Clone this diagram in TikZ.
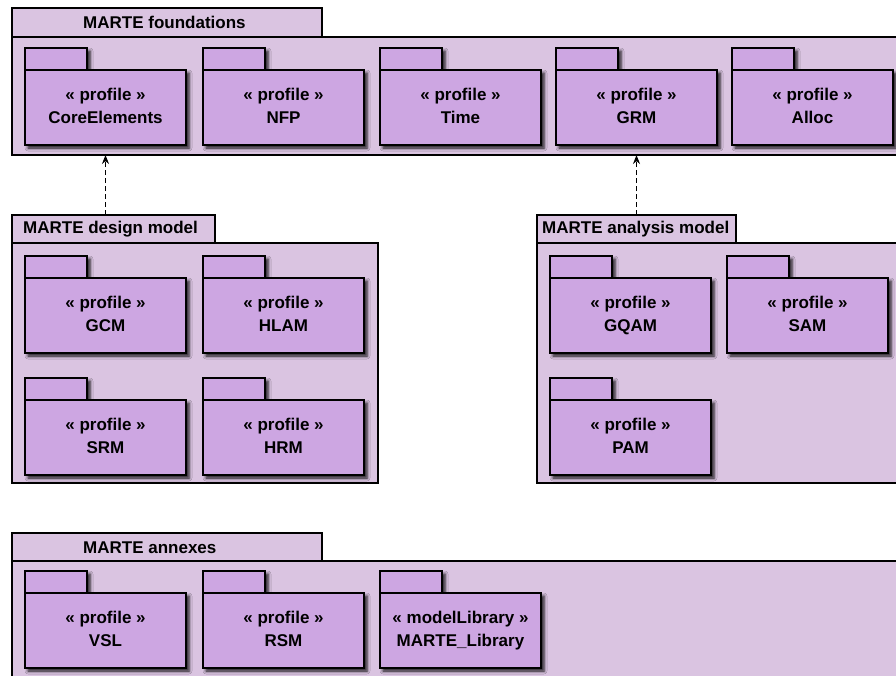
\documentclass[tikz,border=0pt]{standalone}
\usepackage{fontspec}
\setmainfont{Liberation Sans}
\usetikzlibrary{shadows.blur,arrows.meta}
\definecolor{martebg}{RGB}{218,196,225}
\definecolor{martepkg}{RGB}{205,166,226}
\begin{document}
\begin{tikzpicture}[x=1pt,y=-1pt,
  font=\fontsize{17}{22.6}\selectfont\bfseries,
  group/.style={draw,fill=martebg,line width=1.1pt,inner sep=0pt,
    outer sep=0pt,anchor=north west},
  grouptab/.style={group,minimum height=29pt},
  title/.style={anchor=west,inner sep=0pt},
  pkg/.style={draw,fill=martepkg,line width=1.4pt,inner sep=0pt,outer sep=0pt,
    minimum width=161pt,minimum height=75pt,align=center,anchor=north west,
    blur shadow={shadow xshift=3pt,shadow yshift=-3pt,
      shadow blur radius=3pt,shadow opacity=90}},
  pkgtab/.style={pkg,minimum width=62pt,minimum height=22pt,anchor=south west},
  dep/.style={draw,dash pattern=on 5pt off 3pt,line width=1.3pt,
    -{Stealth[length=9pt,width=7pt]}}]
\useasboundingbox (0,0) rectangle (896,675);
\clip (0,0) rectangle (896,675);

% foundations
\node[grouptab,minimum width=310pt] (ftab) at (12,8) {};
\node[title] (ftitle) at (83,22.5) {MARTE foundations};
\node[group,minimum width=900pt,minimum height=118pt] (fbody) at (12,37) {};
\foreach \x/\n/\t in {25/core/CoreElements,203/nfp/NFP,380/time/Time,
    556/grm/GRM,732/alloc/Alloc}{
  \node[pkgtab] (\n tab) at (\x,70) {};
  \node[pkg] (\n) at (\x,70) {\strut« profile »\\\strut\t};
}

% design model
\node[grouptab,minimum width=203pt] (dtab) at (12,215) {};
\node[title] (dtitle) at (23,229.5) {MARTE design model};
\node[group,minimum width=366pt,minimum height=240pt] (dbody) at (12,243) {};
\foreach \x/\y/\n/\t in {25/278/gcm/GCM,203/278/hlam/HLAM,
    25/400/srm/SRM,203/400/hrm/HRM}{
  \node[pkgtab] (\n tab) at (\x,\y) {};
  \node[pkg] (\n) at (\x,\y) {\strut« profile »\\\strut\t};
}

% analysis model
\node[grouptab,minimum width=199pt] (atab) at (537,215) {};
\node[title] (atitle) at (542,229.5) {MARTE analysis model};
\node[group,minimum width=370pt,minimum height=240pt] (abody) at (537,243) {};
\foreach \x/\y/\n/\t in {550/278/gqam/GQAM,727/278/sam/SAM,550/400/pam/PAM}{
  \node[pkgtab] (\n tab) at (\x,\y) {};
  \node[pkg] (\n) at (\x,\y) {\strut« profile »\\\strut\t};
}

% annexes
\node[grouptab,minimum width=310pt] (xtab) at (12,533) {};
\node[title] (xtitle) at (83,547.5) {MARTE annexes};
\node[group,minimum width=900pt,minimum height=150pt] (xbody) at (12,561) {};
\foreach \x/\n/\s/\t in {25/vsl/profile/VSL,203/rsm/profile/RSM,
    380/lib/modelLibrary/MARTE\_Library}{
  \node[pkgtab] (\n tab) at (\x,593) {};
  \node[pkg] (\n) at (\x,593) {\strut« \s{} »\\\strut\t};
}

% dependencies
\draw[dep] (core |- dtab.north) -- (core |- fbody.south);
\draw[dep] (grm |- atab.north) -- (grm |- fbody.south);
\end{tikzpicture}
\end{document}
